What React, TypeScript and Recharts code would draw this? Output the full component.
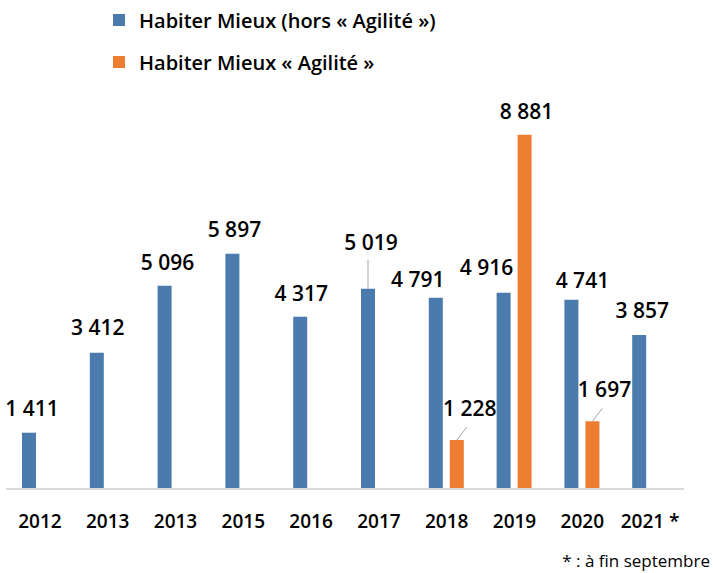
import React from "react"
import { BarChart, Bar, XAxis, YAxis, LabelList } from "recharts"

const years = ["2012", "2013", "2013", "2015", "2016", "2017", "2018", "2019", "2020", "2021 *"]
const horsAgilite = [1411, 3412, 5096, 5897, 4317, 5019, 4791, 4916, 4741, 3857]
const agilite = [null, null, null, null, null, null, 1228, 8881, 1697, null]

const BLUE = "#4A7BAC"
const ORANGE = "#ED7D31"
const FONT = "'Open Sans', 'Noto Sans', sans-serif"

// label nudges [dx, distance above bar top, leader line]
const blueLabelPos: [number, number, boolean][] = [
  [3, 25, false], [1, 26, false], [3, 24, false], [2, 25, false], [1, 24, false],
  [3, 47, true], [-18, 19, false], [-17, 26, false], [11, 20, false], [3, 25, false],
]
const orangeLabelPos: Record<number, [number, number, boolean]> = {
  6: [13, 32, true],
  7: [2, 24, false],
  8: [12, 32, true],
}

const data = years.map((year, i) => ({ year, hors: horsAgilite[i], agilite: agilite[i] }))

const fmt = (v: number) => String(v).replace(/\B(?=(\d{3})+(?!\d))/g, " ")

function makeLabel(series: (number | null)[], getPos: (i: number) => [number, number, boolean] | undefined, orange: boolean) {
  return (props: any) => {
    const { x, y, width, value } = props
    if (value == null) return null
    const idx = series.indexOf(value)
    const pos = getPos(idx) || [0, 25, false]
    const cx = x + width / 2
    const ty = y - pos[1]
    let leader = null
    if (pos[2]) {
      leader = orange ? (
        <line x1={cx} y1={y} x2={cx + 10} y2={y - 13} stroke="#a6a6a6" strokeWidth={1} />
      ) : (
        <line x1={cx} y1={y} x2={cx} y2={y - 29} stroke="#a6a6a6" strokeWidth={1} />
      )
    }
    return (
      <g>
        {leader}
        <text x={cx + pos[0]} y={ty} textAnchor="middle" dominantBaseline="central"
          fontFamily={FONT} fontSize={21} fontWeight={600} fill="#000">
          {fmt(value)}
        </text>
      </g>
    )
  }
}

function YearTick(props: any) {
  const { x, y, payload } = props
  return (
    <text x={x} y={y + 24} textAnchor="middle" dominantBaseline="central"
      fontFamily={FONT} fontSize={19} fontWeight={600} fill="#000">
      {payload.value}
    </text>
  )
}

export default function App() {
  return (
    <div style={{ position: "absolute", left: 0, top: 0, width: 713, height: 573, background: "#fff", fontFamily: FONT }}>
      <BarChart width={713} height={573} data={data} barSize={14} barGap={7}
        margin={{ top: 90, right: 29, left: 6, bottom: 0 }}>
        <YAxis hide domain={[0, 10000]} />
        <XAxis dataKey="year" height={84} tickLine={false} axisLine={{ stroke: "#d9d9d9", strokeWidth: 2 }}
          tick={<YearTick />} interval={0} />
        <Bar dataKey="hors" fill={BLUE} isAnimationActive={false}>
          <LabelList dataKey="hors" content={makeLabel(horsAgilite, (i) => blueLabelPos[i], false)} />
        </Bar>
        <Bar dataKey="agilite" fill={ORANGE} isAnimationActive={false}>
          <LabelList dataKey="agilite" content={makeLabel(agilite, (i) => orangeLabelPos[i], true)} />
        </Bar>
      </BarChart>
      <div style={{ position: "absolute", left: 113, top: 6, fontSize: 20, fontWeight: 600, color: "#000" }}>
        {[["Habiter Mieux (hors « Agilité »)", BLUE], ["Habiter Mieux « Agilité »", ORANGE]].map(([name, color]) => (
          <div key={name} style={{ display: "flex", alignItems: "center", height: 28, marginBottom: 14, whiteSpace: "nowrap" }}>
            <span style={{ display: "inline-block", width: 12, height: 12, background: color, marginRight: 14 }} />
            <span>{name}</span>
          </div>
        ))}
      </div>
      <div style={{ position: "absolute", right: 3, top: 549, fontSize: 17, color: "#000" }}>
        * : à fin septembre
      </div>
    </div>
  )
}
